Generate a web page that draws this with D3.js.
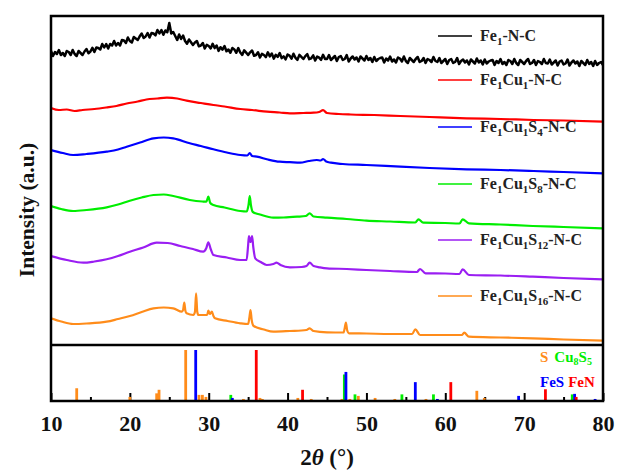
<!DOCTYPE html>
<html><head><meta charset="utf-8">
<script src="https://cdn.jsdelivr.net/npm/d3@7"></script>
<style>body{margin:0;background:#fff}svg{display:block}text{font-family:"Liberation Serif","Times New Roman",serif;font-weight:bold}</style>
</head><body>
<script>
// ---------- data ----------
const xTicksMajor = [10,20,30,40,50,60,70,80];
const xTicksMinor = [15,25,35,45,55,65,75];

// Fe1-N-C : values every 0.25 deg from 10 to 80 (noisy trace)
const blackStart = 10, blackStep = 0.25;
const blackVals = [
294,289,293,291,295,290,292,289,294,293,290,295,291,289,294,292,290,293.5,296,291.7,293.5,297.2,293,297.5,297,295.5,301,297.5,
301,296.5,301,299.5,304,299.5,302,299.5,305,304.5,302,307.5,304,302.5,308,306.5,305,308.7,311.5,307,308.5,312,307.5,312,311.5,309.7,315,311.5,
315,310.2,314.5,312.8,322,311.5,313,309,305,310.5,306,309.5,304,301.2,305.5,302.7,300,302.5,304,298.7,299.5,302,296.5,300.2,299,296.6,301.2,296.9,
299.5,294.1,297.8,295.4,299,293.7,295.5,292.2,297,295.6,292.2,296.9,292.5,290.1,294.7,292.4,290,292.7,294.5,289.2,290,292.7,287.5,291.2,290,287.9,292.7,288.6,
291.5,286.4,290.2,288.1,292,286.9,288.7,285.6,290.5,289.4,286.3,291.3,287.2,285.2,290.1,288.1,286,288.9,290.8,285.8,286.7,289.6,284.5,288.4,287.3,285.2,290.2,286.1,
286,290,285,287,289,284,288,289,285,286,290,283.5,286.5,288.5,285.5,287.5,283.5,288.5,286.5,284.5,289,285,287,283,288,284,286,287,
287.5,282.5,286.5,284.5,288.5,283.5,285.5,282.5,287.5,286.5,283.5,288.5,284,282,287,285,283,286,288,283,284,287,282,286,285,283,288,284,
283,287,282,284,286,281,285,286,282,283,287,281,284,285.5,282.5,284.5,280.5,285.5,283.5,281.5,286.5,282.5,284.5,280.5,285.5,281.5,283.5,284.5,
285,280,284,282,286,281,283,280,285,284,281,286,282,280,285,283,281,284,286,281,282,285,280,284,283,281,286,282,
281.5,285.5,280.5,282.5,284.5,279.5,283.5,284.5,280.5,281.5,285.5,279.5,282.5,284.5,281.5,283.5,279,284,282,280,285,281,283,279,284,280,282,283,280];

const redPts = [[10,237],[11,235],[12,235.5],[13,234],[14,235],[15.5,236],[17,237.5],[18.3,239],[19.6,241.5],[21,243.5],[22.1,245.5],[23.5,246.5],[24.7,247.3],[26,246.5],[27.2,244.3],[29,242],[30.6,240],[32,238.5],[34,236],[35.5,235],[37.4,233.3],[39,232.5],[40.3,231.7],[42,232],[43.3,232.3],[44,233],[44.5,234.8],[45,232],[46.5,231],[48,230.5],[51,230],[54.3,229],[58,228],[62.7,226.7],[67,226],[71.2,225],[75,224.5],[80,223.3]];

const bluePts = [[10,195],[11.5,192],[12.8,190],[14.5,191],[17.06,193.3],[18.5,195.5],[19.6,198.3],[21.3,202.5],[23,206.7],[24.3,207.5],[25.5,206.7],[27.6,201.7],[29,199],[30.6,195.7],[32.3,192.5],[34,190],[34.9,189.5],[35.2,192],[35.5,189],[36.1,188.3],[37.5,185.5],[39,183.3],[40.3,182.8],[41.6,182.3],[42.7,184],[43.7,185],[44.2,184.5],[44.5,186],[44.9,183.5],[45.5,182.3],[47,181],[50,180],[54.3,178.3],[58,177],[62.7,175.7],[67,175],[71.2,174],[75,173],[80,171.7]];

const greenPts = [[10,139],[11.3,136],[12.8,134],[14.5,135],[17.06,137.7],[18.5,140.5],[20,144.3],[21.5,147.5],[23,150],[24.3,150.5],[25.5,149],[27.6,145],[29.2,143.5],[29.7,143.3],[29.95,148.3],[30.2,142],[30.6,140],[32,137.5],[34,134],[34.8,133.5],[35.05,140],[35.2,149],[35.35,140],[35.6,133],[36.5,130.5],[38.2,127.3],[39.5,127.5],[41.2,128.3],[42.3,129],[42.8,131.7],[43.3,128.5],[45,127.3],[47.5,126],[50,124.3],[53,123.5],[56.2,122.5],[56.6,125.7],[57.2,122.3],[60,122],[61.8,121.5],[62.2,125.7],[63,121.7],[67,120.5],[71.1,119],[75,118],[80,116.7]];

const purplePts = [[10,89],[12,85],[14.1,82.3],[15.5,83.5],[17.06,85.7],[18.5,89],[20,93.3],[21.7,97.5],[23.4,102.3],[24.8,102],[26.4,99],[28,96],[29.3,93.3],[29.7,97],[29.95,102.7],[30.25,96],[30.6,90],[32.3,87.5],[34,85],[34.8,85],[35.0,100],[35.1,109],[35.3,103],[35.5,109],[35.65,98],[35.9,86.7],[36.6,83],[37.35,80],[38.2,81],[38.6,82.3],[39.1,80],[40.3,77.7],[41.8,78],[42.4,79],[42.8,82.3],[43.3,79],[44.1,77.7],[45,76.7],[47.5,76],[50,75],[53,74],[56.4,73],[56.8,76],[57.5,71.7],[60,71.5],[61.8,71],[62.2,75.7],[63,70],[67,69.5],[71.1,68.3],[75,67],[80,65.7]];

const orangePts = [[10,26.7],[11.3,23.5],[12.8,21],[14.5,21.5],[17.06,23.3],[18.5,26],[20,29],[21.5,33],[23,36.7],[24.3,37.5],[25.5,36.7],[26.6,33.3],[26.75,35],[26.9,42.3],[27.05,34],[27.2,31.7],[28.05,30],[28.25,33],[28.4,51.7],[28.55,33],[28.7,30],[29.8,30],[29.95,34.3],[30.15,31],[30.4,33.3],[30.6,29],[30.8,26.7],[32.4,24],[34,21.7],[35.0,21],[35.15,27],[35.3,35],[35.45,25],[35.7,19],[37,15.5],[38.2,13.3],[40.3,14],[42.4,15],[42.8,16.7],[43.3,14],[45,12.7],[47.1,12.5],[47.25,17],[47.4,22.3],[47.55,15],[47.8,11.7],[50,11.5],[53,11],[55.8,11],[56.2,15.7],[56.8,10],[60,10],[62.1,10],[62.4,12.3],[63,8.3],[67,7.5],[71.1,6.7],[75,5.5],[80,4.3]];

const seriesNames = ["Fe1-N-C","Fe1Cu1-N-C","Fe1Cu1S4-N-C","Fe1Cu1S8-N-C","Fe1Cu1S12-N-C","Fe1Cu1S16-N-C"];
const seriesColors = ["#000000","#ff0000","#0000ff","#00ee00","#9a1ef2","#ff8c1a"];
const legendLabels = [
  [["Fe",0],["1",1],["-N-C",0]],
  [["Fe",0],["1",1],["Cu",0],["1",1],["-N-C",0]],
  [["Fe",0],["1",1],["Cu",0],["1",1],["S",0],["4",1],["-N-C",0]],
  [["Fe",0],["1",1],["Cu",0],["1",1],["S",0],["8",1],["-N-C",0]],
  [["Fe",0],["1",1],["Cu",0],["1",1],["S",0],["12",1],["-N-C",0]],
  [["Fe",0],["1",1],["Cu",0],["1",1],["S",0],["16",1],["-N-C",0]]
];

// reference patterns: [2theta, relative intensity]
const refS = [[13.26,25],[20.0,8],[23.4,15],[23.7,22],[27.08,100],[28.77,12],[29.2,12],[29.65,8],[34.4,4],[36.5,6],[36.8,4],[41.3,6],[43.0,4],[46.9,4],[47.9,4],[48.97,10],[51.1,6],[53.6,4],[57.55,4],[64.0,20],[64.95,6]];
const refCu8S5 = [[32.8,12],[47.2,52],[48.55,13],[54.5,13],[58.5,13],[76.1,13]];
const refFeS = [[28.35,100],[33.0,6],[47.4,57],[56.2,37],[59.0,4],[69.3,10],[76.4,14],[79.0,4]];
const refFeN = [[36.03,100],[41.9,22],[60.7,37],[72.7,23],[76.6,8]];
const refColors = {S:"#ff8c1a", Cu8S5:"#00ee00", FeS:"#0000ff", FeN:"#ff0000"};

// ---------- drawing ----------
const W = 617, H = 470;
const svg = d3.select("body").append("svg").attr("width",W).attr("height",H);
svg.append("rect").attr("width",W).attr("height",H).attr("fill","#fff");

const x = d3.scaleLinear().domain([10,80]).range([51,603]);
const yTop = d3.scaleLinear().domain([0,329]).range([345,16]);
const yBot = d3.scaleLinear().domain([0,100]).range([401,350]);

svg.append("defs").append("clipPath").attr("id","clipTop")
  .append("rect").attr("x",x(10)).attr("y",yTop(329)).attr("width",x(80)-x(10)).attr("height",yTop(0)-yTop(329));

const blackPts = blackVals.map((v,i)=>[blackStart+i*blackStep, v]);
const allSeries = [blackPts, redPts, bluePts, greenPts, purplePts, orangePts];

const lineTop = d3.line().x(d=>x(d[0])).y(d=>yTop(d[1]));
const gLines = svg.append("g").attr("clip-path","url(#clipTop)");
allSeries.forEach((pts,i)=>{
  gLines.append("path").attr("d", i===0 ? lineTop.curve(d3.curveLinear)(pts) : lineTop.curve(d3.curveMonotoneX)(pts))
    .attr("fill","none").attr("stroke",seriesColors[i])
    .attr("stroke-width", i===0 ? 2.5 : 2.2).attr("stroke-linejoin","round");
});

// legend
const legendY = [36,80,127,184,240,296];
legendLabels.forEach((segs,i)=>{
  const yy = legendY[i];
  svg.append("line").attr("x1",438).attr("x2",472).attr("y1",yy).attr("y2",yy)
    .attr("stroke",seriesColors[i]).attr("stroke-width",1.5);
  const t = svg.append("text").attr("x",480).attr("y",yy+5).attr("font-size",16).attr("fill","#222");
  let shifted = false;
  segs.forEach(([s,sub])=>{
    const ts = t.append("tspan").text(s);
    if (sub && !shifted){ ts.attr("dy",4).attr("font-size",11); shifted = true; }
    else if (sub) { ts.attr("font-size",11); }
    else if (!sub && shifted){ ts.attr("dy",-4); shifted = false; }
  });
});

// axis ticks (inward) on bottom
const axisG = svg.append("g").attr("transform",`translate(0,${yBot(0)})`);
axisG.call(d3.axisBottom(x).tickValues(xTicksMajor).tickSize(-8).tickPadding(14).tickFormat(d3.format("d")));
axisG.select(".domain").remove();
axisG.selectAll(".tick line").attr("stroke","#000").attr("stroke-width",2);
axisG.selectAll(".tick text").attr("font-size",22).attr("font-family","Liberation Serif").attr("font-weight","bold").attr("fill","#111");
const axisM = svg.append("g").attr("transform",`translate(0,${yBot(0)})`);
axisM.call(d3.axisBottom(x).tickValues(xTicksMinor).tickSize(-4).tickFormat(""));
axisM.select(".domain").remove();
axisM.selectAll(".tick line").attr("stroke","#000").attr("stroke-width",2);

// reference bars
function bars(data,color){
  svg.append("g").selectAll("line").data(data).join("line")
    .attr("x1",d=>x(d[0])).attr("x2",d=>x(d[0]))
    .attr("y1",yBot(0)).attr("y2",d=>yBot(d[1]))
    .attr("stroke",color).attr("stroke-width",2.8);
}
bars(refS, refColors.S);
bars(refCu8S5, refColors.Cu8S5);
bars(refFeS, refColors.FeS);
bars(refFeN, refColors.FeN);

// lower legend
const l1 = svg.append("text").attr("x",540).attr("y",362).attr("font-size",15);
l1.append("tspan").attr("fill",refColors.S).text("S");
l1.append("tspan").attr("fill",refColors.Cu8S5).attr("dx",6).text("Cu");
l1.append("tspan").attr("fill",refColors.Cu8S5).attr("font-size",10).attr("dy",3).text("8");
l1.append("tspan").attr("fill",refColors.Cu8S5).attr("dy",-3).text("S");
l1.append("tspan").attr("fill",refColors.Cu8S5).attr("font-size",10).attr("dy",3).text("5");
const l2 = svg.append("text").attr("x",540).attr("y",387).attr("font-size",15);
l2.append("tspan").attr("fill",refColors.FeS).text("FeS");
l2.append("tspan").attr("fill",refColors.FeN).attr("dx",4).text("FeN");

// frame
svg.append("rect").attr("x",x(10)).attr("y",yTop(329)).attr("width",x(80)-x(10)).attr("height",yBot(0)-yTop(329))
  .attr("fill","none").attr("stroke","#000").attr("stroke-width",2.5);
svg.append("line").attr("x1",x(10)).attr("x2",x(80)).attr("y1",yTop(0)).attr("y2",yTop(0))
  .attr("stroke","#000").attr("stroke-width",2.5);

// axis titles
svg.append("text").attr("transform","translate(34,210) rotate(-90)").attr("text-anchor","middle")
  .attr("font-size",21.5).attr("fill","#111").text("Intensity (a.u.)");
const xt = svg.append("text").attr("x",327).attr("y",465).attr("text-anchor","middle").attr("font-size",23).attr("fill","#111");
xt.append("tspan").text("2");
xt.append("tspan").attr("font-style","italic").text("θ");
xt.append("tspan").text(" (°)");
</script>
</body></html>
